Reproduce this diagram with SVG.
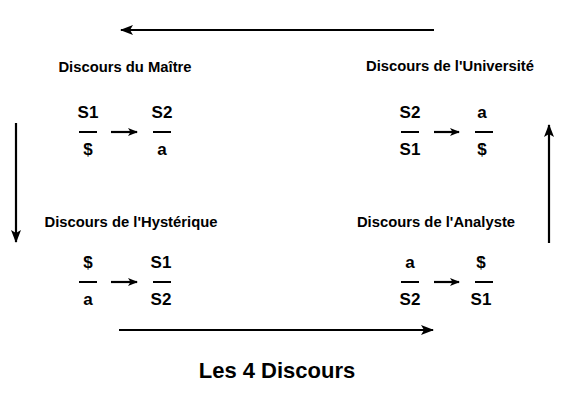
<svg xmlns="http://www.w3.org/2000/svg" width="565" height="403" viewBox="0 0 565 403">
<style>
text{font-family:"Liberation Sans",Arial,sans-serif;font-weight:bold;fill:#000;text-anchor:middle}
.t{font-size:14.8px}
.s{font-size:17px}
.bar{stroke:#000;stroke-width:2}
.ln{stroke:#000;stroke-width:2.2;fill:none}
</style>
<defs>
<marker id="ah" markerWidth="10" markerHeight="8" refX="9" refY="4" orient="auto" markerUnits="userSpaceOnUse">
<path d="M0,0 L10,4 L0,8 L2.5,4 Z" fill="#000"/>
</marker>
<marker id="big" markerWidth="13" markerHeight="10" refX="12" refY="5" orient="auto" markerUnits="userSpaceOnUse">
<path d="M0,0 L13,5 L0,10 L3,5 Z" fill="#000"/>
</marker>
</defs>
<rect width="565" height="403" fill="#fff"/>
<g id="connectors">
<line class="ln" x1="434" y1="30" x2="121" y2="30" marker-end="url(#big)"/>
<line class="ln" x1="16" y1="123" x2="16" y2="242" marker-end="url(#big)"/>
<line class="ln" x1="119" y1="330" x2="433" y2="330" marker-end="url(#big)"/>
<line class="ln" x1="549" y1="243" x2="549" y2="125" marker-end="url(#big)"/>
</g>
<g id="maitre">
<text class="t" x="125" y="72">Discours du Maître</text>
<text class="s" x="88" y="118">S1</text>
<line class="bar" x1="79" y1="132" x2="97" y2="132"/>
<text class="s" x="88" y="155">$</text>
<line class="ln" x1="111" y1="132" x2="137" y2="132" marker-end="url(#ah)"/>
<text class="s" x="162" y="118">S2</text>
<line class="bar" x1="153" y1="132" x2="171" y2="132"/>
<text class="s" x="162" y="155">a</text>
</g>
<g id="universite">
<text class="t" x="450" y="71">Discours de l'Université</text>
<text class="s" x="410" y="118">S2</text>
<line class="bar" x1="401" y1="132" x2="419" y2="132"/>
<text class="s" x="410" y="155">S1</text>
<line class="ln" x1="434" y1="132" x2="459" y2="132" marker-end="url(#ah)"/>
<text class="s" x="482" y="118">a</text>
<line class="bar" x1="475" y1="132" x2="493" y2="132"/>
<text class="s" x="482" y="155">$</text>
</g>
<g id="hysterique">
<text class="t" x="131" y="227">Discours de l'Hystérique</text>
<text class="s" x="88" y="268">$</text>
<line class="bar" x1="79" y1="282" x2="97" y2="282"/>
<text class="s" x="88" y="305">a</text>
<line class="ln" x1="111" y1="282" x2="137" y2="282" marker-end="url(#ah)"/>
<text class="s" x="161" y="268">S1</text>
<line class="bar" x1="153" y1="282" x2="171" y2="282"/>
<text class="s" x="161" y="305">S2</text>
</g>
<g id="analyste">
<text class="t" x="436" y="227">Discours de l'Analyste</text>
<text class="s" x="410" y="268">a</text>
<line class="bar" x1="401" y1="282" x2="419" y2="282"/>
<text class="s" x="410" y="305">S2</text>
<line class="ln" x1="434" y1="282" x2="459" y2="282" marker-end="url(#ah)"/>
<text class="s" x="481" y="268">$</text>
<line class="bar" x1="475" y1="282" x2="493" y2="282"/>
<text class="s" x="481" y="305">S1</text>
</g>
<g id="title">
<text x="277" y="378" style="font-size:22px">Les 4 Discours</text>
</g>
</svg>
